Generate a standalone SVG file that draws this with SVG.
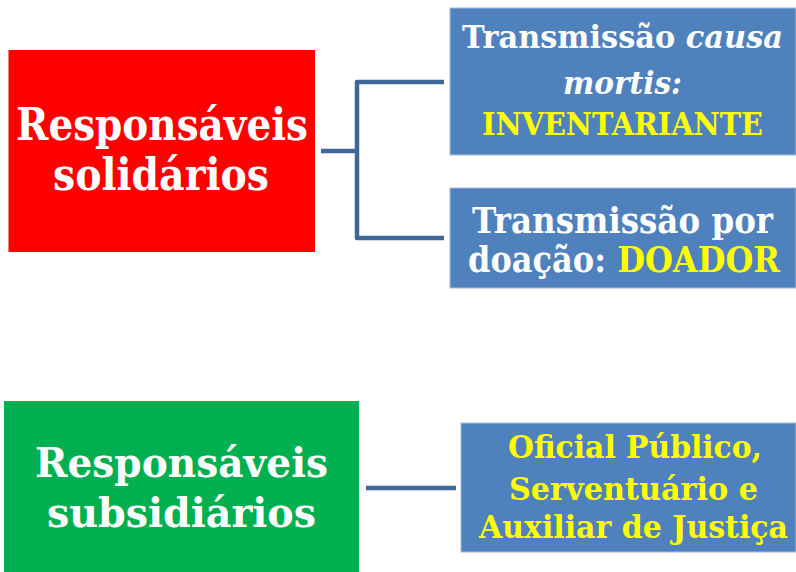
<svg xmlns="http://www.w3.org/2000/svg" width="796" height="572" viewBox="0 0 796 572">
<style>
.t{font-family:"DejaVu Serif","Liberation Serif",serif;font-weight:bold;fill:#FFFFFF}
.y{fill:#FFFF00}
.i{font-style:italic}
.box{fill:#4F81BD;stroke:#A7BEDC;stroke-width:1}
.con{fill:none;stroke:#3F6799;stroke-width:4.5;stroke-linejoin:round;stroke-linecap:butt}
</style>
<rect width="796" height="572" fill="#FFFFFF"/>
<g id="connectors">
<path class="con" d="M321,151 H357 M444,82 H357 V238 H444"/>
<path class="con" d="M366,488 H456" stroke-width="5"/>
</g>
<g id="solidarios">
<rect x="8.5" y="50" width="306.5" height="202" fill="#FF0000"/>
<text class="t" font-size="44" x="16" y="140" textLength="292" lengthAdjust="spacingAndGlyphs">Responsáveis</text>
<text class="t" font-size="44" x="53" y="190" textLength="216" lengthAdjust="spacingAndGlyphs">solidários</text>
</g>
<g id="causa-mortis">
<rect class="box" x="450" y="8" width="346" height="147"/>
<text class="t" font-size="31" x="462" y="48" textLength="321" lengthAdjust="spacingAndGlyphs">Transmissão <tspan class="i">causa</tspan></text>
<text class="t i" font-size="31" x="563" y="94" textLength="119" lengthAdjust="spacingAndGlyphs">mortis:</text>
<text class="t y" font-size="31" x="482" y="135" textLength="281" lengthAdjust="spacingAndGlyphs">INVENTARIANTE</text>
</g>
<g id="doacao">
<rect class="box" x="450" y="188" width="346" height="100"/>
<text class="t" font-size="35" x="472" y="233" textLength="301" lengthAdjust="spacingAndGlyphs">Transmissão por</text>
<text class="t" font-size="35" x="468" y="272" textLength="312" lengthAdjust="spacingAndGlyphs">doação: <tspan class="y">DOADOR</tspan></text>
</g>
<g id="subsidiarios">
<rect x="4" y="401" width="355" height="171" fill="#00B050"/>
<text class="t" font-size="41" x="35" y="477" textLength="293" lengthAdjust="spacingAndGlyphs">Responsáveis</text>
<text class="t" font-size="41" x="47" y="527" textLength="269" lengthAdjust="spacingAndGlyphs">subsidiários</text>
</g>
<g id="oficial">
<rect class="box" x="461" y="423" width="335" height="129"/>
<text class="t y" font-size="31" x="508" y="458" textLength="254" lengthAdjust="spacingAndGlyphs">Oficial Público,</text>
<text class="t y" font-size="31" x="509" y="500" textLength="249" lengthAdjust="spacingAndGlyphs">Serventuário e</text>
<text class="t y" font-size="31" x="479" y="538" textLength="309" lengthAdjust="spacingAndGlyphs">Auxiliar de Justiça</text>
</g>
</svg>
